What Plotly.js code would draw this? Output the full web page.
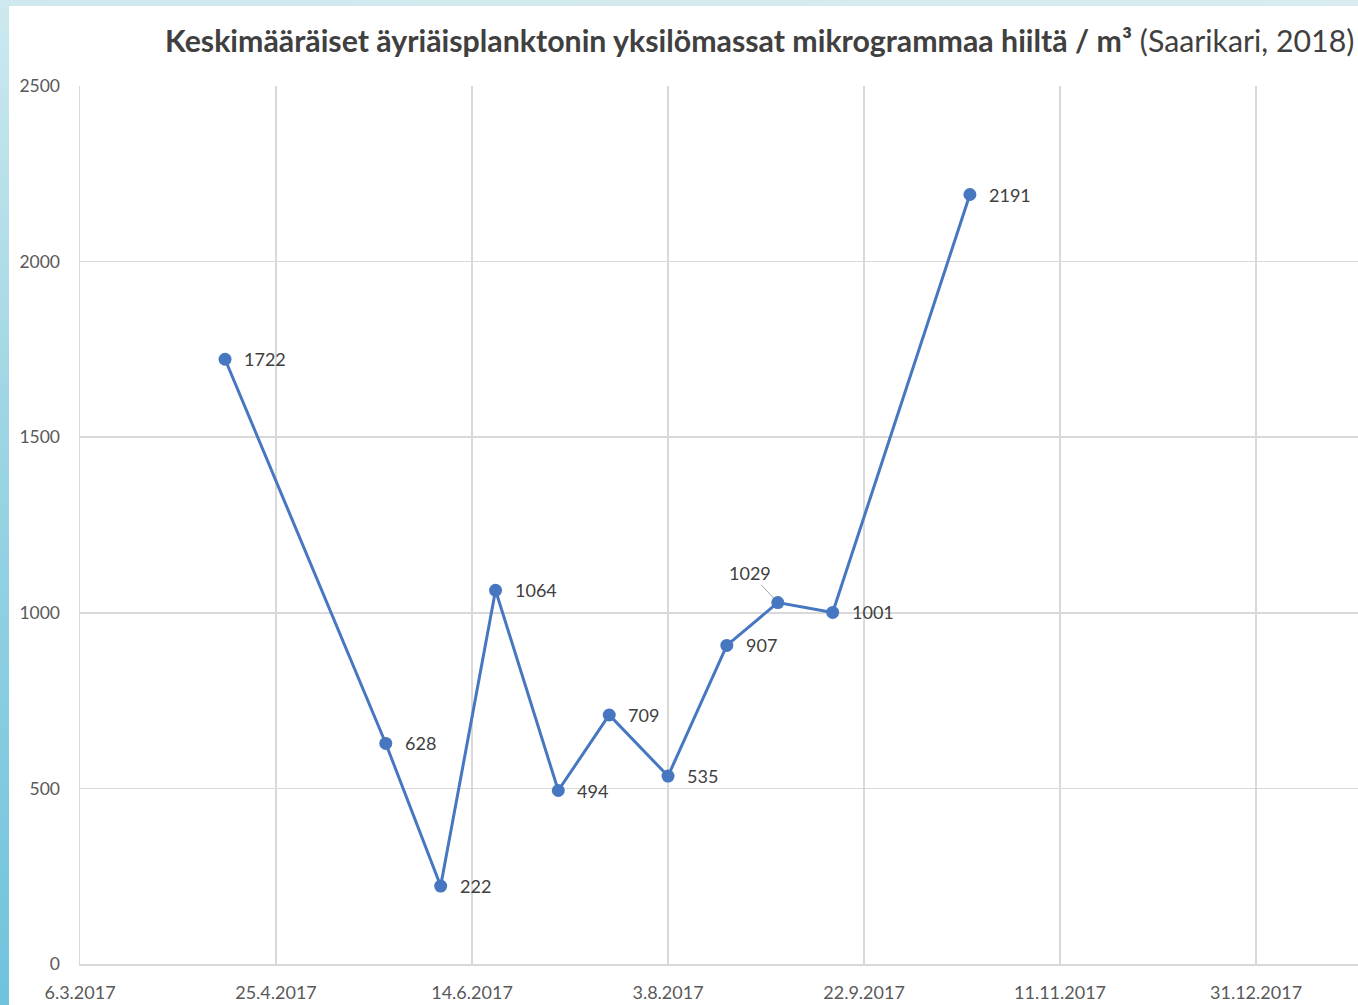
<!DOCTYPE html>
<html>
<head>
<meta charset="utf-8">
<script src="https://cdn.plot.ly/plotly-3.0.1.min.js"></script>
<style>
  html, body { margin: 0; padding: 0; width: 1358px; height: 1005px; overflow: hidden; background: #ffffff; }
  #band-left { position: absolute; left: 0; top: 0; width: 9px; height: 1005px;
    background: linear-gradient(to bottom, #cde9ef 0%, #9fd6e4 40%, #6fc3dc 100%); }
  #band-top { position: absolute; left: 0; top: 0; width: 1358px; height: 6px;
    background: linear-gradient(to right, #cfe8ee, #d8ecef); }
  #chart { position: absolute; left: 0; top: 0; width: 1358px; height: 1005px; }
</style>
</head>
<body>
<div id="band-left"></div>
<div id="band-top"></div>
<div id="chart"></div>
<script>
// Data
const dates = ['2017-04-12', '2017-05-23', '2017-06-06', '2017-06-20', '2017-07-06',
               '2017-07-19', '2017-08-03', '2017-08-18', '2017-08-31', '2017-09-14', '2017-10-19'];
const values = [1722, 628, 222, 1064, 494, 709, 535, 907, 1029, 1001, 2191];
const titleBold = 'Keskimääräiset äyriäisplanktonin yksilömassat mikrogrammaa hiiltä / m³';
const titleRest = '(Saarikari, 2018)';

const lineColor = '#4677c0';
const textColor = '#404040';
const tickColor = '#595959';
const gridColor = '#d9d9d9';
const fontFam = 'Lato, "Open Sans", sans-serif';

const annotations = values.map((v, i) => {
  if (v === 1029) {
    return {
      x: dates[i], y: v, xref: 'x', yref: 'y', text: String(v),
      showarrow: true, arrowhead: 0, arrowwidth: 1, arrowcolor: '#a6a6a6',
      ax: -28, ay: -30, standoff: 6,
      font: { family: fontFam, size: 18, color: textColor }
    };
  }
  return {
    x: dates[i], y: v, xref: 'x', yref: 'y', text: String(v),
    showarrow: false, xanchor: 'left', yanchor: 'middle', xshift: 17,
    font: { family: fontFam, size: 18, color: textColor }
  };
});

annotations.push({
  xref: 'paper', yref: 'paper', x: 0.9985, y: 1, yshift: 46, xanchor: 'right', yanchor: 'middle',
  showarrow: false,
  text: '<b>' + titleBold + '</b> ' + titleRest,
  font: { family: fontFam, size: 30.3, color: textColor }
});

const trace = {
  x: dates, y: values, type: 'scatter', mode: 'lines+markers',
  line: { color: lineColor, width: 3 },
  marker: { color: lineColor, size: 13 },
  hoverinfo: 'x+y'
};

const layout = {
  width: 1358, height: 1005,
  margin: { l: 80, r: 0, t: 86, b: 41 },
  paper_bgcolor: 'rgba(0,0,0,0)',
  plot_bgcolor: '#ffffff',
  showlegend: false,
  font: { family: fontFam, color: tickColor },
  xaxis: {
    type: 'date',
    range: ['2017-03-06', '2018-01-26'],
    tick0: '2017-03-06', dtick: 50 * 86400000,
    tickformat: '%-d.%-m.%Y',
    showgrid: true, gridcolor: gridColor, gridwidth: 1.5,
    showline: true, linecolor: gridColor, linewidth: 1.5,
    zeroline: false, ticks: '',
    tickfont: { size: 18, color: tickColor },
    ticklabelstandoff: 12
  },
  yaxis: {
    range: [0, 2500], dtick: 500,
    showgrid: true, gridcolor: gridColor, gridwidth: 1.5,
    showline: true, linecolor: gridColor, linewidth: 1.5,
    zeroline: false, ticks: '',
    tickfont: { size: 17.5, color: tickColor },
    ticklabelstandoff: 15
  },
  annotations: annotations
};

Plotly.newPlot('chart', [trace], layout, { displayModeBar: false, staticPlot: true });
</script>
</body>
</html>
